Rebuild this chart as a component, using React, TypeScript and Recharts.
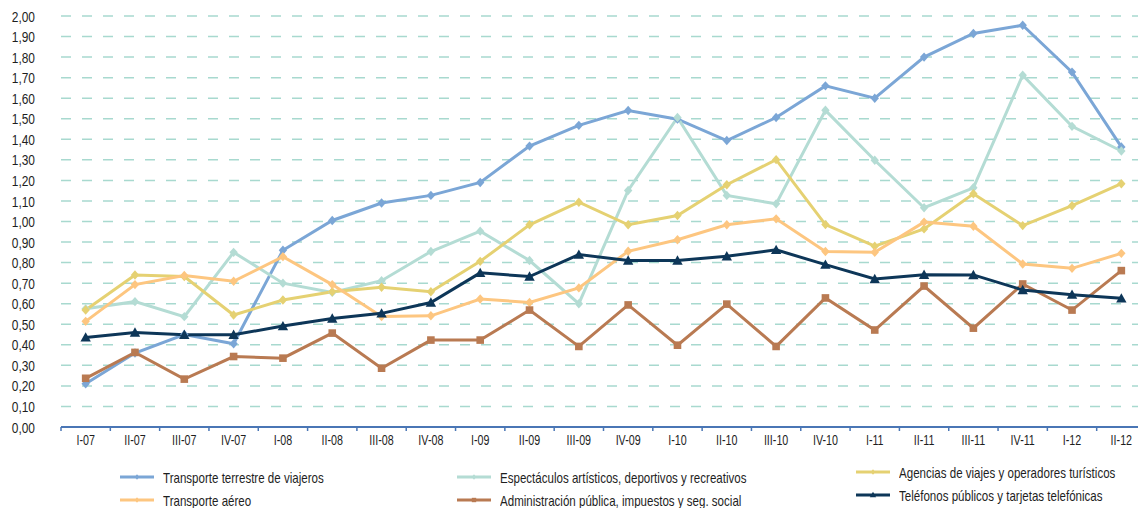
import React from 'react';
import { LineChart, Line, XAxis, YAxis, CartesianGrid } from 'recharts';

const periods = [
    'I-07', 'II-07', 'III-07', 'IV-07', 'I-08', 'II-08', 'III-08', 'IV-08',
    'I-09', 'II-09', 'III-09', 'IV-09', 'I-10', 'II-10', 'III-10', 'IV-10',
    'I-11', 'II-11', 'III-11', 'IV-11', 'I-12', 'II-12'
];

const terrestre = [0.21, 0.36, 0.45, 0.405, 0.86, 1.005, 1.09, 1.127, 1.19, 1.367, 1.468, 1.54, 1.498, 1.394, 1.506, 1.66, 1.60, 1.80, 1.915, 1.955, 1.727, 1.363];
const espectaculos = [0.575, 0.61, 0.537, 0.85, 0.70, 0.655, 0.712, 0.854, 0.953, 0.81, 0.60, 1.151, 1.506, 1.127, 1.086, 1.541, 1.298, 1.067, 1.164, 1.712, 1.463, 1.343];
const agencias = [0.569, 0.74, 0.732, 0.545, 0.618, 0.658, 0.68, 0.658, 0.806, 0.984, 1.094, 0.984, 1.029, 1.179, 1.301, 0.985, 0.88, 0.964, 1.135, 0.98, 1.077, 1.184];
const aereo = [0.514, 0.693, 0.737, 0.709, 0.829, 0.693, 0.538, 0.541, 0.623, 0.606, 0.677, 0.855, 0.911, 0.984, 1.013, 0.854, 0.85, 0.997, 0.977, 0.793, 0.772, 0.845];
const administracion = [0.237, 0.363, 0.233, 0.343, 0.335, 0.457, 0.286, 0.423, 0.423, 0.569, 0.392, 0.594, 0.398, 0.598, 0.392, 0.628, 0.472, 0.686, 0.481, 0.696, 0.569, 0.761];
const telefonos = [0.436, 0.46, 0.449, 0.449, 0.491, 0.528, 0.553, 0.606, 0.75, 0.732, 0.839, 0.81, 0.81, 0.831, 0.862, 0.79, 0.72, 0.741, 0.74, 0.667, 0.644, 0.626];

const yTicks = [0, 0.1, 0.2, 0.3, 0.4, 0.5, 0.6, 0.7, 0.8, 0.9, 1.0, 1.1, 1.2, 1.3, 1.4, 1.5, 1.6, 1.7, 1.8, 1.9, 2.0];

const FONT = '"Liberation Sans", Arial, sans-serif';
const TEXT = '#1e1e1e';
const AXIS = '#4A76B5';

const W = 1138;
const H = 500;
const Y_W = 53;
const X_H = 81;
const BAND = (W - Y_W) / periods.length;

const series = [
    { key: 'terrestre', name: 'Transporte terrestre de viajeros', color: '#7BA6D6', shape: 'diamond' },
    { key: 'espectaculos', name: 'Espectáculos artísticos, deportivos y recreativos', color: '#B4DCD4', shape: 'diamond' },
    { key: 'agencias', name: 'Agencias de viajes y operadores turísticos', color: '#E5D172', shape: 'diamond' },
    { key: 'aereo', name: 'Transporte aéreo', color: '#FDC680', shape: 'diamond' },
    { key: 'administracion', name: 'Administración pública, impuestos y seg. social', color: '#B97A52', shape: 'square' },
    { key: 'telefonos', name: 'Teléfonos públicos y tarjetas telefónicas', color: '#0D3658', shape: 'triangle' },
];

// legend slots inside the wrapper (3 columns x 2 rows, like the Excel legend)
const legendSlots = [
    { left: 112, top: 461 },
    { left: 449, top: 461 },
    { left: 848, top: 456 },
    { left: 112, top: 484 },
    { left: 449, top: 484 },
    { left: 848, top: 479 },
];

const chartData = periods.map((p, i) => ({
    period: p,
    terrestre: terrestre[i],
    espectaculos: espectaculos[i],
    agencias: agencias[i],
    aereo: aereo[i],
    administracion: administracion[i],
    telefonos: telefonos[i],
}));

const fmt = (v: number) => Number(v).toFixed(2).replace('.', ',');

const markerPath = (shape: string, cx: number, cy: number, r: number) => {
    if (shape === 'square') return `M${cx - r},${cy - r}H${cx + r}V${cy + r}H${cx - r}Z`;
    if (shape === 'triangle') return `M${cx},${cy - r - 1}L${cx + r + 1},${cy + r}L${cx - r - 1},${cy + r}Z`;
    return `M${cx},${cy - r - 0.5}L${cx + r},${cy}L${cx},${cy + r + 0.5}L${cx - r},${cy}Z`;
};

const makeDot = (shape: string, color: string) => (props: any) => {
    const { cx, cy, index } = props;
    const r = shape === 'square' ? 3.8 : 4.2;
    return <path key={`dot-${index}`} d={markerPath(shape, cx, cy, r)} fill={color} />;
};

const XTick = (props: any) => {
    const { x, y, payload, index } = props;
    const half = BAND / 2;
    return (
        <g>
            <line x1={x - half} x2={x - half} y1={y} y2={y + 4} stroke={AXIS} strokeWidth={1.5} />
            {index === periods.length - 1 && (
                <line x1={x + half} x2={x + half} y1={y} y2={y + 4} stroke={AXIS} strokeWidth={1.5} />
            )}
            <text
                transform={`translate(${x},${y + 18}) scale(0.74,1)`}
                textAnchor="middle"
                fill={TEXT}
                fontSize={14.5}
                fontFamily={FONT}
            >
                {payload.value}
            </text>
        </g>
    );
};

const YTick = (props: any) => {
    const { x, y, payload } = props;
    return (
        <text
            transform={`translate(${x},${y}) scale(0.77,1)`}
            textAnchor="end"
            dy="0.36em"
            fill={TEXT}
            fontSize={15.5}
            fontFamily={FONT}
        >
            {fmt(payload.value)}
        </text>
    );
};

const App: React.FC = () => {
    return (
        <div style={{ position: 'relative', width: W, height: H, fontFamily: FONT }}>
            <LineChart width={W} height={H} data={chartData} margin={{ top: 8, right: 0, bottom: 0, left: 0 }}>
                <CartesianGrid vertical={false} stroke="#A8D9CF" strokeWidth={1.5} strokeDasharray="10 11" />
                <XAxis
                    dataKey="period"
                    height={X_H}
                    interval={0}
                    padding={{ left: BAND / 2, right: BAND / 2 }}
                    axisLine={{ stroke: AXIS, strokeWidth: 2 }}
                    tickLine={false}
                    tickSize={0}
                    tickMargin={0}
                    tick={<XTick />}
                />
                <YAxis
                    width={Y_W}
                    domain={[0, 2]}
                    ticks={yTicks}
                    interval={0}
                    axisLine={false}
                    tickLine={false}
                    tickSize={0}
                    tickMargin={26}
                    tick={<YTick />}
                />
                {series.map(s => (
                    <Line
                        key={s.key}
                        dataKey={s.key}
                        name={s.name}
                        stroke={s.color}
                        strokeWidth={3}
                        dot={makeDot(s.shape, s.color)}
                        activeDot={false}
                        isAnimationActive={false}
                    />
                ))}
            </LineChart>
            {series.map((s, i) => {
                const slot = legendSlots[i];
                return (
                    <div
                        key={s.key}
                        style={{ position: 'absolute', left: slot.left, top: slot.top, height: 16, display: 'flex', alignItems: 'center', whiteSpace: 'nowrap' }}
                    >
                        <svg width={34} height={10} style={{ display: 'block' }}>
                            <line x1={0} x2={34} y1={5} y2={5} stroke={s.color} strokeWidth={3} />
                            <path d={markerPath(s.shape, 17, 5, 2.2)} fill={s.color} />
                        </svg>
                        <span
                            style={{
                                display: 'inline-block',
                                marginLeft: 9,
                                fontSize: 15,
                                color: TEXT,
                                transform: 'scaleX(0.77)',
                                transformOrigin: 'left center',
                            }}
                        >
                            {s.name}
                        </span>
                    </div>
                );
            })}
        </div>
    );
};

export default App;
